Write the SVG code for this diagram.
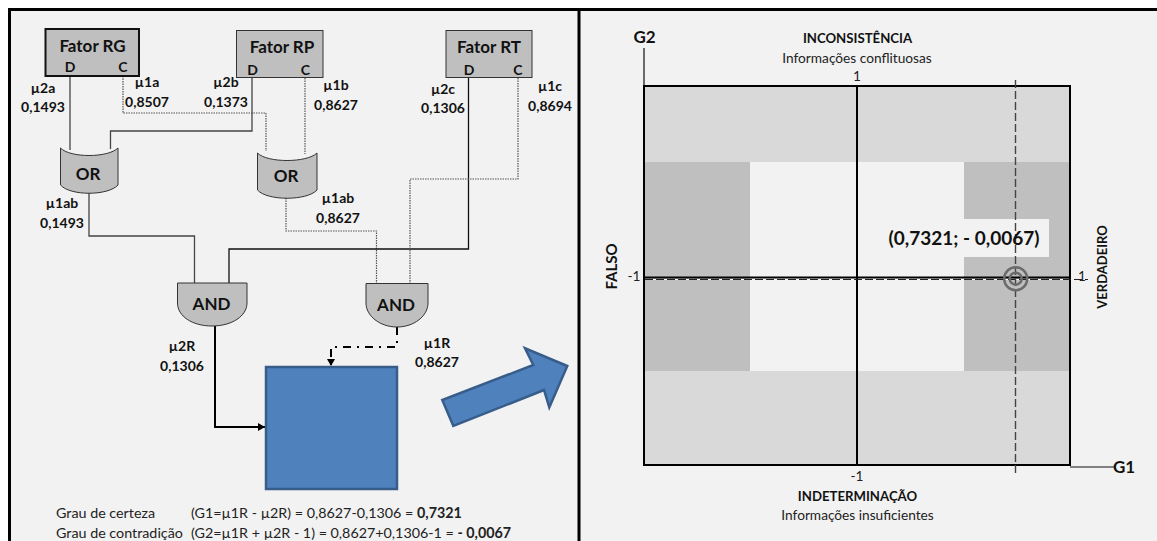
<svg xmlns="http://www.w3.org/2000/svg" width="1157" height="541" viewBox="0 0 1157 541">
<style>
text{font-family:Lato,Carlito,"Liberation Sans",sans-serif;fill:#111}
.b{font-weight:700;font-size:14px;text-anchor:middle}
.t{font-weight:700;font-size:17px;text-anchor:middle}
.h{font-weight:700;font-size:13.200px;text-anchor:middle}
.n{font-size:13.700px;text-anchor:middle;fill:#222}
.f{font-size:14.300px;fill:#222}
.g{fill:#bfbfbf;stroke:#333;stroke-width:1}
.s{fill:none;stroke:#444;stroke-width:1.3}
.k{fill:none;stroke:#111;stroke-width:1.3}
.d{fill:none;stroke:#555;stroke-width:1.2;stroke-dasharray:1.5 1}
.blue{fill:#4f81bd;stroke:#385d8a;stroke-width:2.5}
</style>
<defs><marker id="a" markerUnits="userSpaceOnUse" markerWidth="8" markerHeight="8" refX="7" refY="4" orient="auto"><path d="M0 0L7 4L0 8Z" fill="#000"/></marker></defs>
<rect x="0" y="0" width="1157" height="541" fill="#fff"/>
<rect x="9" y="9" width="1148" height="532" fill="#f2f2f2"/>
<path d="M9.500 541V9.500H1157M579 9.500V541" fill="none" stroke="#000" stroke-width="3"/>
<g id="connectors">
<path class="s" d="M70 76V150"/>
<path class="d" d="M123 76V113H266V151"/>
<path class="s" d="M252 78V131H110.500V149"/>
<path class="d" d="M305 78V154"/>
<path class="s" d="M89 193V236H194.500V283"/>
<path class="d" d="M286 198V231H376.500V283"/>
<path class="k" d="M229 283V249H468.500V78"/>
<path class="d" d="M518 78V179H410V283"/>
<path d="M215 326V427H265" fill="none" stroke="#000" stroke-width="2" marker-end="url(#a)"/>
<path d="M397 327V347H331V366" fill="none" stroke="#000" stroke-width="2" stroke-dasharray="8 6 2 6" marker-end="url(#a)"/>
</g>
<g id="fator-rg"><rect x="45.500" y="29" width="93.500" height="47" fill="#bfbfbf" stroke="#111" stroke-width="2"/><text class="t" x="92.500" y="52">Fator RG</text><text class="b" x="70" y="71.500">D</text><text class="b" x="123" y="71.500">C</text></g>
<g id="fator-rp"><rect x="236.500" y="30.500" width="86.500" height="47" class="g"/><text class="t" x="282" y="53">Fator RP</text><text class="b" x="252.500" y="75">D</text><text class="b" x="305.500" y="75">C</text></g>
<g id="fator-rt"><rect x="446" y="30.500" width="86" height="47" class="g"/><text class="t" x="489" y="53">Fator RT</text><text class="b" x="469" y="75">D</text><text class="b" x="518" y="75">C</text></g>
<g id="or-1"><path class="g" d="M60.500 148C70 158 108 158 118 148V185C108 196 70 196 60.500 185Z"/><text class="t" x="88" y="180">OR</text></g>
<g id="or-2"><path class="g" d="M257.500 153C267 163 307 163 317 153V190C307 201 267 201 257.500 190Z"/><text class="t" x="286" y="182">OR</text></g>
<g id="and-1"><path class="g" d="M177.500 283H247V303C247 316 232 326 212 326C192 326 177.500 316 177.500 303Z"/><text class="t" x="211.500" y="310">AND</text></g>
<g id="and-2"><path class="g" d="M366 283.500H428V303C428 316 414 327 397 327C380 327 366 316 366 303Z"/><text class="t" x="396" y="311">AND</text></g>
<g id="resultado"><rect x="266" y="367" width="131" height="122" class="blue"/></g>
<g id="seta"><path class="blue" d="M442.300 400L453.300 426L544 390L549.300 407.300L567.300 366L525 348.300L533.300 365Z"/></g>
<g id="labels">
<text class="b" x="43" y="93">µ2a</text><text class="b" x="43" y="112">0,1493</text>
<text class="b" x="147" y="87">µ1a</text><text class="b" x="147" y="107">0,8507</text>
<text class="b" x="226" y="87">µ2b</text><text class="b" x="226" y="107">0,1373</text>
<text class="b" x="336" y="90">µ1b</text><text class="b" x="336" y="110">0,8627</text>
<text class="b" x="443" y="94">µ2c</text><text class="b" x="443" y="113">0,1306</text>
<text class="b" x="550" y="91">µ1c</text><text class="b" x="550" y="111">0,8694</text>
<text class="b" x="62" y="208">µ1ab</text><text class="b" x="62" y="228">0,1493</text>
<text class="b" x="338" y="203">µ1ab</text><text class="b" x="338" y="223">0,8627</text>
<text class="b" x="182" y="351">µ2R</text><text class="b" x="182" y="371">0,1306</text>
<text class="b" x="437" y="348">µ1R</text><text class="b" x="437" y="367">0,8627</text>
<text class="f" x="56" y="518">Grau de certeza</text>
<text class="f" x="191" y="518">(G1=µ1R - µ2R) = 0,8627-0,1306 = <tspan font-weight="700">0,7321</tspan></text>
<text class="f" x="56" y="538">Grau de contradição</text>
<text class="f" x="191" y="538">(G2=µ1R + µ2R - 1) = 0,8627+0,1306-1 = <tspan font-weight="700">- 0,0067</tspan></text>
</g>
<g id="grafico">
<rect x="644" y="86" width="426" height="379" fill="#d9d9d9"/>
<rect x="644" y="162" width="426" height="209" fill="#bfbfbf"/>
<rect x="750" y="162" width="214" height="209" fill="#f2f2f2"/>
<rect x="964" y="219" width="85" height="38" fill="#f2f2f2"/>
<path d="M644 48V86M1070 467H1114" fill="none" stroke="#111" stroke-width="1.2"/>
<rect x="644" y="86" width="426" height="379" fill="none" stroke="#000" stroke-width="2"/>
<path d="M857 86V465M644 277.500H1070" fill="none" stroke="#000" stroke-width="2"/>
<path d="M645 279.500H1070" fill="none" stroke="#fff" stroke-width="1"/>
<path d="M645 279.500H1088" fill="none" stroke="#222" stroke-width="1" stroke-dasharray="8 3"/>
<path d="M1015.500 80V475" fill="none" stroke="#444" stroke-width="1.400" stroke-dasharray="8 3"/>
<circle cx="1015.700" cy="278.700" r="11.500" fill="none" stroke="#6b6b6b" stroke-width="2.500"/>
<circle cx="1015.700" cy="278.700" r="6" fill="none" stroke="#6b6b6b" stroke-width="2.500"/>
<text class="t" x="644.500" y="43" style="font-size:17px">G2</text>
<text class="h" x="857.500" y="43">INCONSISTÊNCIA</text>
<text class="n" x="857" y="63">Informações conflituosas</text>
<text class="n" x="857" y="81">1</text>
<text class="n" x="857" y="481">-1</text>
<text class="h" x="857.500" y="501">INDETERMINAÇÃO</text>
<text class="n" x="857.500" y="520">Informações insuficientes</text>
<text class="n" x="634" y="281">-1</text>
<text class="n" x="1082" y="281">1</text>
<text class="t" x="1124" y="473" style="font-size:17px">G1</text>
<text class="t" x="964" y="245" style="font-size:19px">(0,7321; - 0,0067)</text>
<text class="b" transform="translate(617 266.500) rotate(-90)" style="font-size:15px">FALSO</text>
<text class="b" transform="translate(1107 267) rotate(-90)" style="font-size:13px">VERDADEIRO</text>
</g>
</svg>
